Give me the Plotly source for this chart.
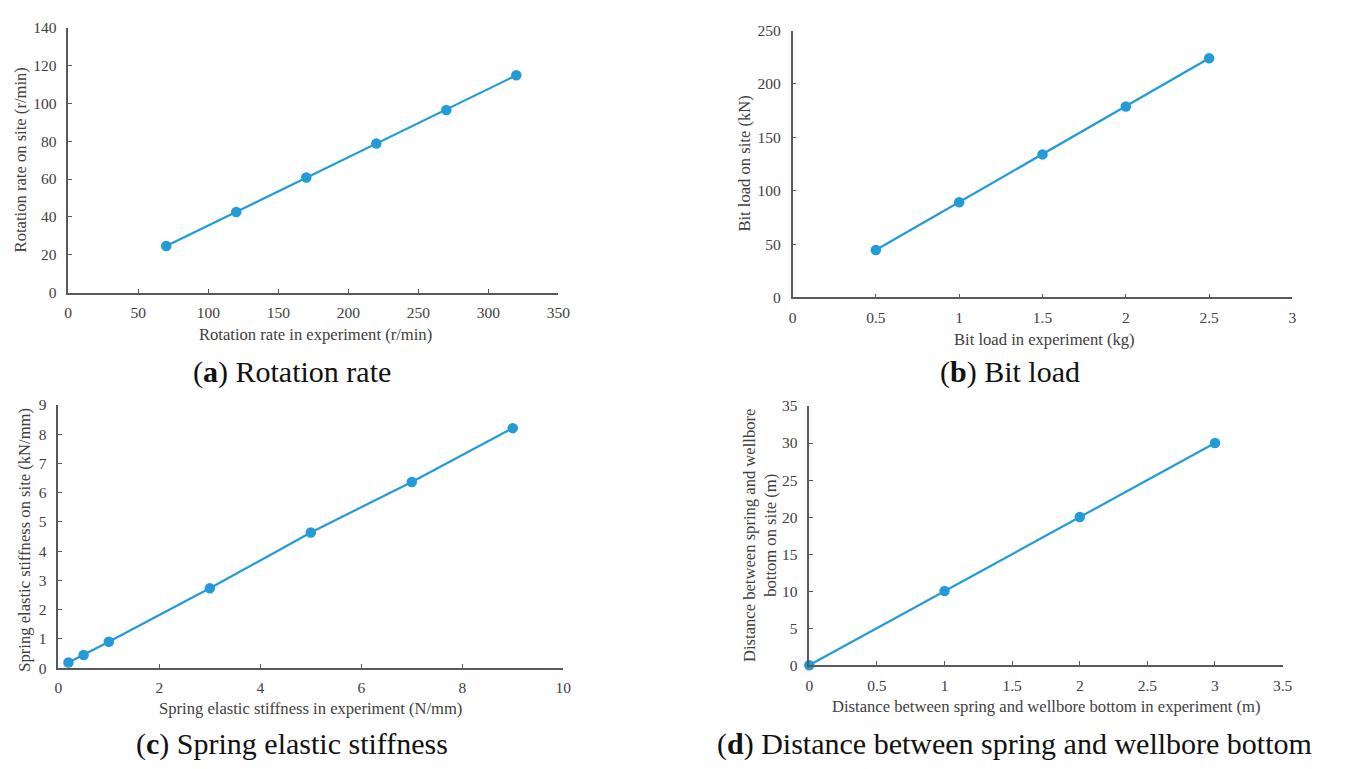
import plotly.graph_objects as go

W, H = 1345, 769

# ---- data ----
rot_exp = [70, 120, 170, 220, 270, 320]
rot_site = [24.6, 42.6, 60.8, 78.7, 96.5, 114.8]

load_exp = [0.5, 1.0, 1.5, 2.0, 2.5]
load_site = [44.5, 89.2, 134.0, 178.9, 224.0]

stiff_exp = [0.2, 0.5, 1, 3, 5, 7, 9]
stiff_site = [0.19, 0.45, 0.90, 2.73, 4.64, 6.37, 8.21]

dist_exp = [0, 1, 2, 3]
dist_site = [0, 10, 20, 30]

# ---- styling ----
BLUE = "#239bd9"
AXC = "#595959"
TXT = "#404040"
FONT = "Liberation Serif"

def px_x(p):
    return p / W

def px_y(p):
    return 1 - p / H

fig = go.Figure()

panels = [
    (rot_exp, rot_site, (65, 561), (19, 290), [0, 350], 50, [0, 140], 20),
    (load_exp, load_site, (798, 1304), (22, 295), [0, 3], 0.5, [0, 250], 50),
    (stiff_exp, stiff_site, (55, 566), (405, 674), [0, 10], 2, [0, 9], 1),
    (dist_exp, dist_site, (815, 1294), (406, 671), [0, 3.5], 0.5, [0, 35], 5),
]

layout_axes = {}
for i, (xs, ys, xd, yd, xr, dx, yr, dy) in enumerate(panels, start=1):
    xa = "x" if i == 1 else f"x{i}"
    ya = "y" if i == 1 else f"y{i}"
    fig.add_trace(go.Scatter(
        x=xs, y=ys, xaxis=xa, yaxis=ya, mode="lines+markers",
        line=dict(color=BLUE, width=2.2),
        marker=dict(color=BLUE, size=10.5),
        cliponaxis=False, showlegend=False,
    ))
    common = dict(showline=True, linecolor=AXC, linewidth=1.5, ticks="inside",
                  ticklen=4, tickwidth=1.3, tickcolor=AXC, showgrid=False,
                  zeroline=False, tickfont=dict(family=FONT, size=15.5, color=TXT),
                  fixedrange=True)
    layout_axes["xaxis" if i == 1 else f"xaxis{i}"] = dict(
        domain=[px_x(xd[0]), px_x(xd[1])], range=xr, dtick=dx, tick0=0,
        anchor=ya, ticklabelstandoff=5, **common)
    layout_axes["yaxis" if i == 1 else f"yaxis{i}"] = dict(
        domain=[px_y(yd[1]), px_y(yd[0])], range=yr, dtick=dy, tick0=0,
        anchor=xa, ticklabelstandoff=7, **common)

fig.update_layout(**layout_axes)

ann = []
def add_text(text, x, y, size, angle=0, color=TXT):
    ann.append(dict(text=text, x=px_x(x), y=px_y(y), xref="paper", yref="paper",
                    showarrow=False, textangle=angle, xanchor="center", yanchor="middle",
                    font=dict(family=FONT, size=size, color=color)))

# axis titles
TS = 16.6
add_text("Rotation rate in experiment (r/min)", 315, 333, TS)
add_text("Rotation rate on site (r/min)", 17, 154, TS, -90)
add_text("Bit load in experiment (kg)", 1053, 338, TS)
add_text("Bit load on site (kN)", 749, 158, TS, -90)
add_text("Spring elastic stiffness in experiment (N/mm)", 310, 715, TS)
add_text("Spring elastic stiffness on site (kN/mm)", 21, 543, TS, -90)
add_text("Distance between spring and wellbore bottom in experiment (m)", 1055, 713, TS)
add_text("Distance between spring and wellbore<br>bottom on site (m)", 765, 538, TS, -90)

# captions
CS = 30
add_text("(<b>a</b>) Rotation rate", 291, 371, CS, color="#111111")
add_text("(<b>b</b>) Bit load", 1018, 371, CS, color="#111111")
add_text("(<b>c</b>) Spring elastic stiffness", 291, 752, CS, color="#111111")
add_text("(<b>d</b>) Distance between spring and wellbore bottom", 1023, 752, CS, color="#111111")

fig.update_layout(
    annotations=ann,
    width=W, height=H,
    margin=dict(l=0, r=0, t=0, b=0),
    paper_bgcolor="white", plot_bgcolor="white",
    showlegend=False,
)

fig.write_html("out.html", config={"displayModeBar": False})
